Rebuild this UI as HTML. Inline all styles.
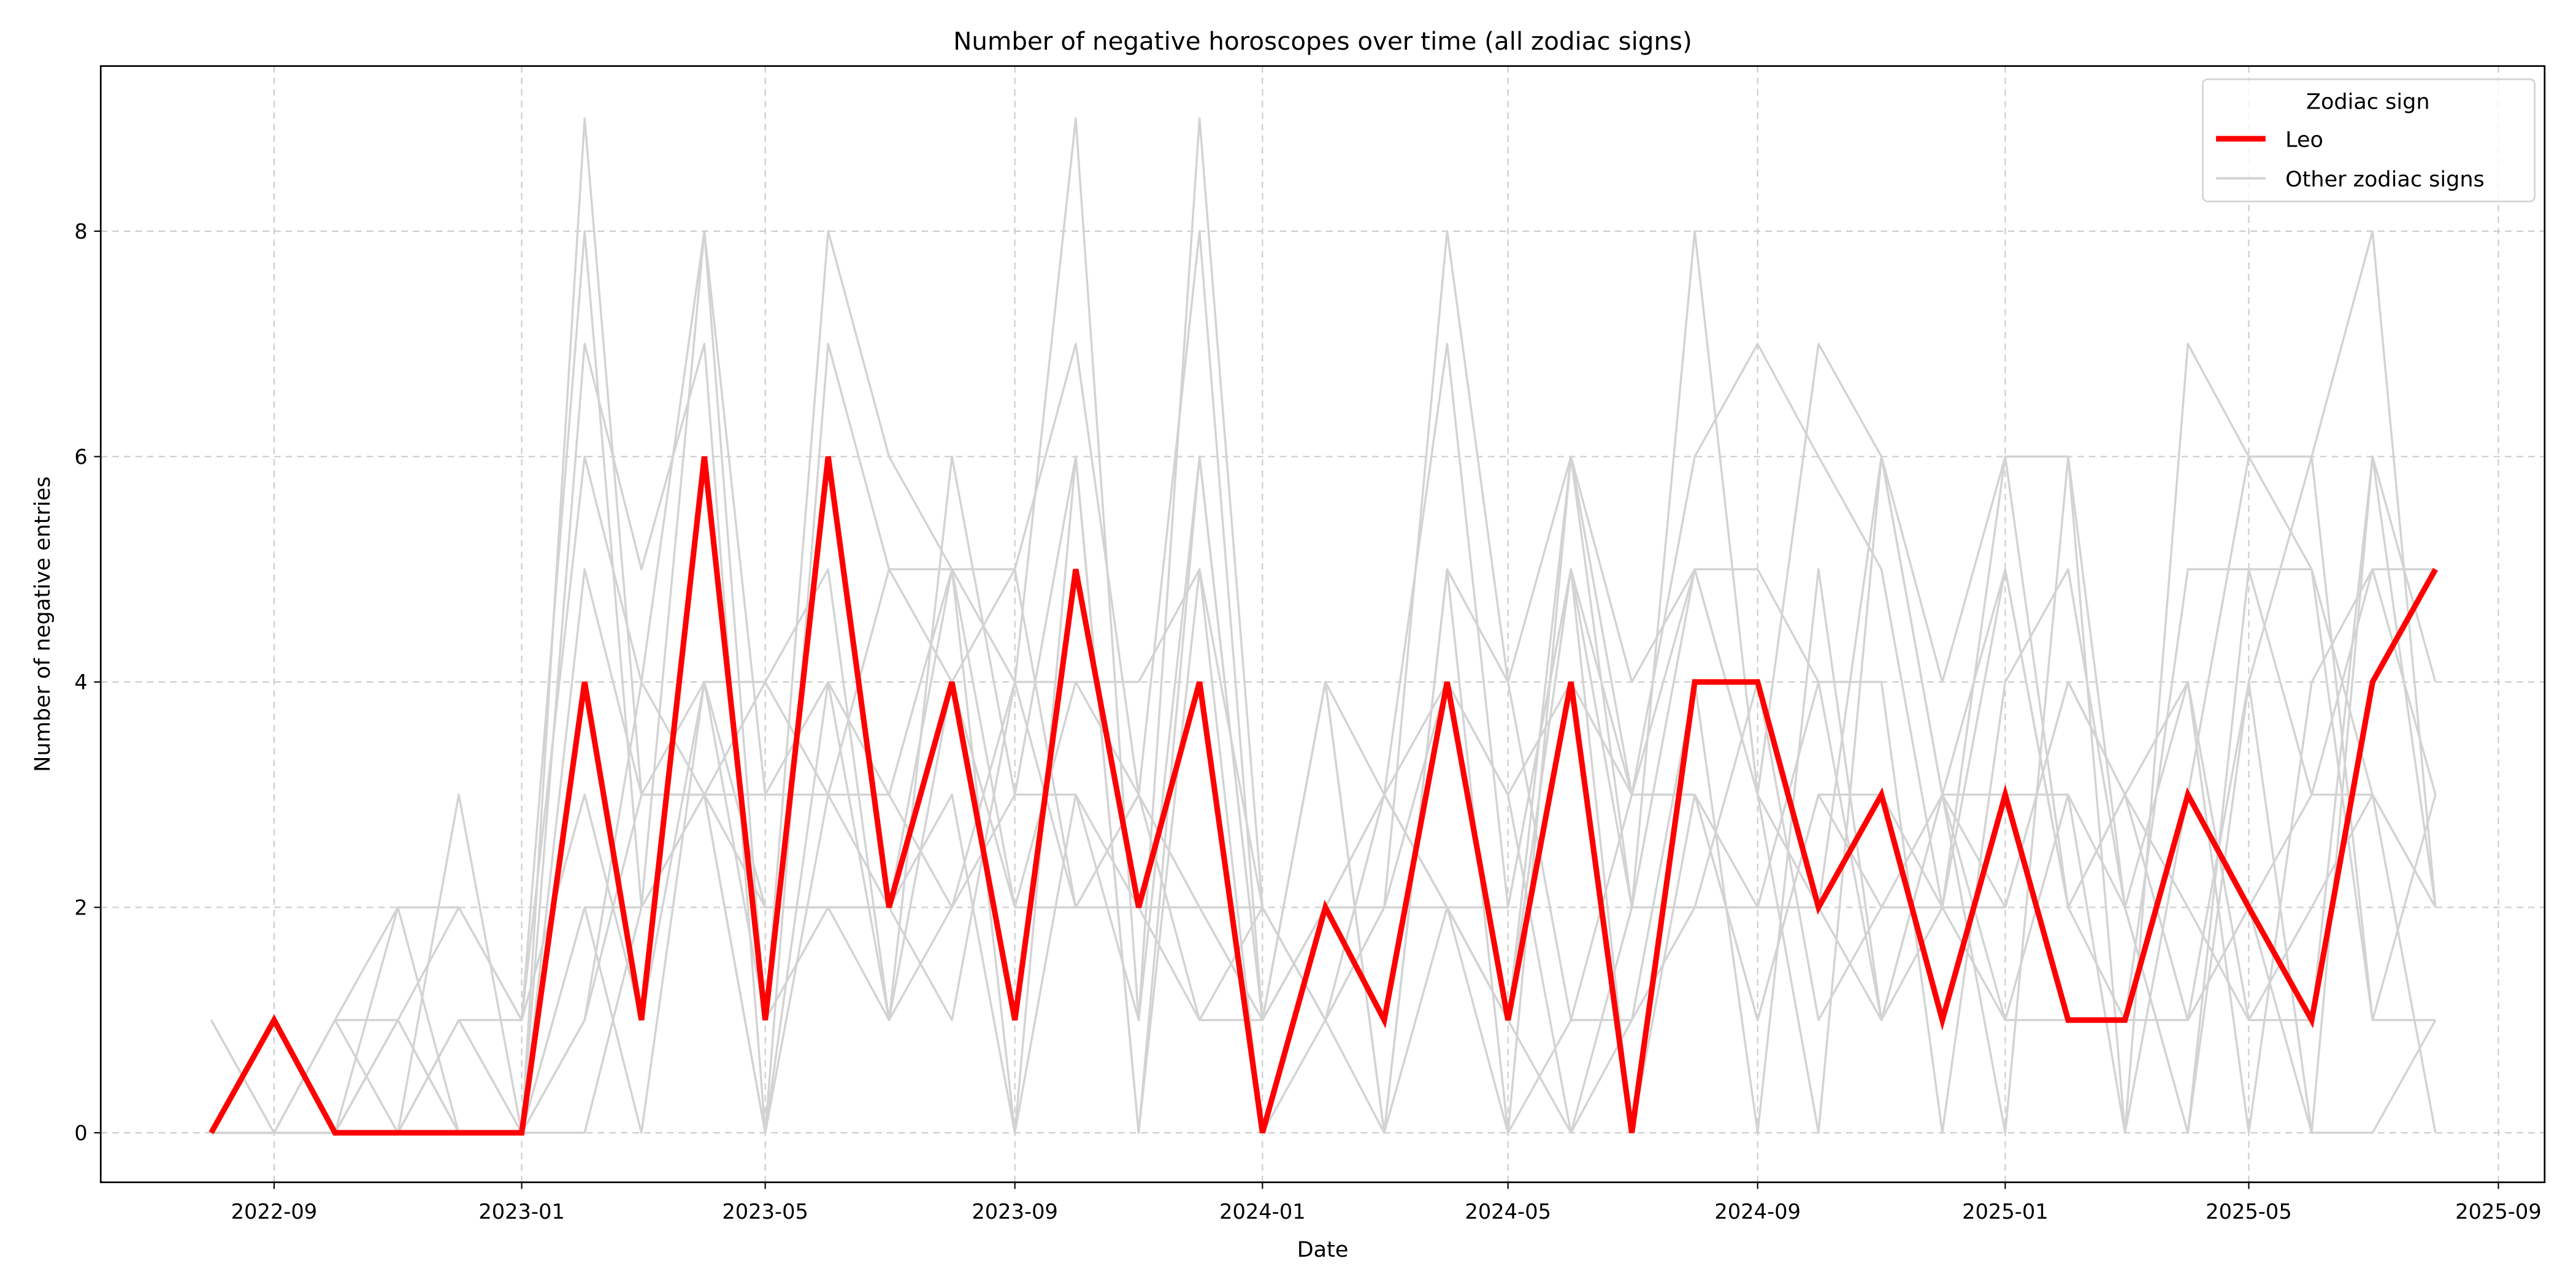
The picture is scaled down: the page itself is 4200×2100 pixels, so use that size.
<!DOCTYPE html>
<html><head><meta charset="utf-8"><style>html,body{margin:0;padding:0;background:#fff}svg{display:block}</style></head>
<body>
<svg id="chart" xmlns="http://www.w3.org/2000/svg" width="4200" height="2100" viewBox="0 0 1560 780" font-family="'DejaVu Sans','Liberation Sans',sans-serif">
<rect width="1560" height="780" fill="#fff"/>
<g id="grid"></g>
<g id="others"></g>
<g id="leo"></g>
<rect x="61" y="40" width="1480" height="676" fill="none" stroke="#000" stroke-width="1"/>
<g id="axes"></g>
<text x="801" y="30" font-size="15" text-anchor="middle">Number of negative horoscopes over time (all zodiac signs)</text>
<text x="801" y="761" font-size="13" text-anchor="middle">Date</text>
<text transform="translate(30,378) rotate(-90)" font-size="13" text-anchor="middle">Number of negative entries</text>
<g>
<rect x="1334" y="48" width="201" height="74" rx="3" fill="#fff" fill-opacity="0.8" stroke="#d3d3d3" stroke-width="1"/>
<text x="1434" y="66" font-size="13" text-anchor="middle">Zodiac sign</text>
<line x1="1342" y1="84" x2="1372" y2="84" stroke="#ff0000" stroke-width="3.4"/>
<text x="1384" y="89" font-size="13">Leo</text>
<line x1="1342" y1="108" x2="1372" y2="108" stroke="#d3d3d3" stroke-width="1.5"/>
<text x="1384" y="113" font-size="13">Other zodiac signs</text>
</g>
</svg>
<script>
const startYear = 2022, startMonth = 8; // first data point month
const leoValues = [0,1,0,0,0,0,4,1,6,1,6,2,4,1,5,2,4,0,2,1,4,1,4,0,4,4,2,3,1,3,1,1,3,2,1,4,5];
const otherSign1 = [1,0,1,0,1,0,9,3,4,4,3,5,5,5,2,3,2,1,4,3,2,1,6,3,5,3,7,6,4,6,2,3,1,4,6,8,2];
const otherSign2 = [0,0,1,2,2,1,8,2,8,1,8,6,5,4,9,1,9,2,1,2,8,4,6,2,8,3,0,6,3,0,6,0,7,6,6,1,1];
const otherSign3 = [0,0,0,1,0,0,7,5,7,0,7,5,4,5,7,3,8,1,2,3,7,2,5,3,6,7,6,5,2,5,2,1,5,5,5,3,2];
const otherSign4 = [0,0,0,1,2,1,6,4,3,4,5,1,6,3,6,0,6,1,4,0,5,0,6,4,5,5,4,4,0,4,5,2,0,4,0,6,4];
const otherSign5 = [0,0,0,0,3,0,5,3,3,3,4,3,5,2,4,4,5,2,1,2,4,3,0,1,4,0,5,1,3,2,4,3,4,0,4,5,3];
const otherSign6 = [0,0,0,2,0,0,2,0,4,1,2,2,3,0,3,2,2,2,1,3,2,0,1,3,3,1,3,2,2,1,1,1,1,2,3,3,0];
const otherSign7 = [0,0,0,0,1,0,1,3,3,2,2,2,1,4,2,2,1,1,4,0,5,4,1,1,2,2,4,1,3,3,3,2,0,5,3,5,5];
const otherSign8 = [0,0,0,0,0,0,0,2,3,0,4,1,2,3,3,1,6,1,2,2,2,1,5,0,3,1,3,3,2,2,4,3,1,2,0,0,1];
const otherSign9 = [0,0,0,1,0,0,1,4,8,3,3,2,5,0,6,0,5,0,1,0,2,2,5,2,5,3,2,1,2,6,6,2,4,1,1,6,2];
const otherSign10 = [0,0,0,0,1,1,3,1,4,2,2,1,4,2,2,3,2,1,2,3,2,1,0,2,2,4,1,2,3,1,3,0,3,6,5,1,3];
const otherSign11 = [1,0,1,1,0,0,2,2,3,0,3,3,2,4,4,3,1,2,1,3,4,3,4,3,3,2,2,6,3,5,2,3,2,1,2,3,2];
const yTicks = [0,2,4,6,8];
const xTickLabels = ["2022-09","2023-01","2023-05","2023-09","2024-01","2024-05","2024-09","2025-01","2025-05","2025-09"];

const NS = "http://www.w3.org/2000/svg";
const t0 = Date.UTC(2022,8,1), t1 = Date.UTC(2025,8,1);
function xScale(ms){ return 166 + (ms - t0) / (t1 - t0) * (1513 - 166); }
function yScale(v){ return 686 - v * 68.25; }
function monthMs(i){ return Date.UTC(startYear, startMonth - 1 + i, 1); }
function labelMs(s){ const p = s.split("-"); return Date.UTC(+p[0], +p[1]-1, 1); }
function mk(tag, attrs, parent){ const e = document.createElementNS(NS, tag); for (const k in attrs) e.setAttribute(k, attrs[k]); parent.appendChild(e); return e; }

const grid = document.getElementById("grid"), axes = document.getElementById("axes");
yTicks.forEach(v => {
  const y = yScale(v);
  const g = mk("line", {x1:61, x2:1541, y1:y, y2:y, stroke:"#cccccc", "stroke-width":0.8, "stroke-dasharray":"4,3"}, grid);
  
  
  const t = mk("line", {x1:57, x2:61, y1:y, y2:y, stroke:"#000", "stroke-width":0.8}, axes);
  
  
  const l = mk("text", {x:53, y:y+4.5, "font-size":12.5, "text-anchor":"end"}, axes);
  l.textContent = v;
  
  
});
xTickLabels.forEach(s => {
  const x = xScale(labelMs(s));
  const g = mk("line", {x1:x, x2:x, y1:40, y2:716, stroke:"#cccccc", "stroke-width":0.8, "stroke-dasharray":"4,3"}, grid);
  
  
  const t = mk("line", {x1:x, x2:x, y1:716, y2:720, stroke:"#000", "stroke-width":0.8}, axes);
  
  
  const l = mk("text", {x:x, y:738, "font-size":12.5, "text-anchor":"middle"}, axes);
  l.textContent = s;
  
  
});
function pts(arr){ return arr.map((v,i) => xScale(monthMs(i)).toFixed(2) + "," + yScale(v).toFixed(2)).join(" "); }
const others = [otherSign1,otherSign2,otherSign3,otherSign4,otherSign5,otherSign6,otherSign7,otherSign8,otherSign9,otherSign10,otherSign11];
const og = document.getElementById("others");
others.forEach(arr => {
  const p = mk("polyline", {points:pts(arr), fill:"none", stroke:"#d3d3d3", "stroke-width":1.3, "stroke-linejoin":"round"}, og);
  
  
});
const lp = mk("polyline", {points:pts(leoValues), fill:"none", stroke:"#ff0000", "stroke-width":3.4, "stroke-linejoin":"miter"}, document.getElementById("leo"));


</script>
</body></html>
